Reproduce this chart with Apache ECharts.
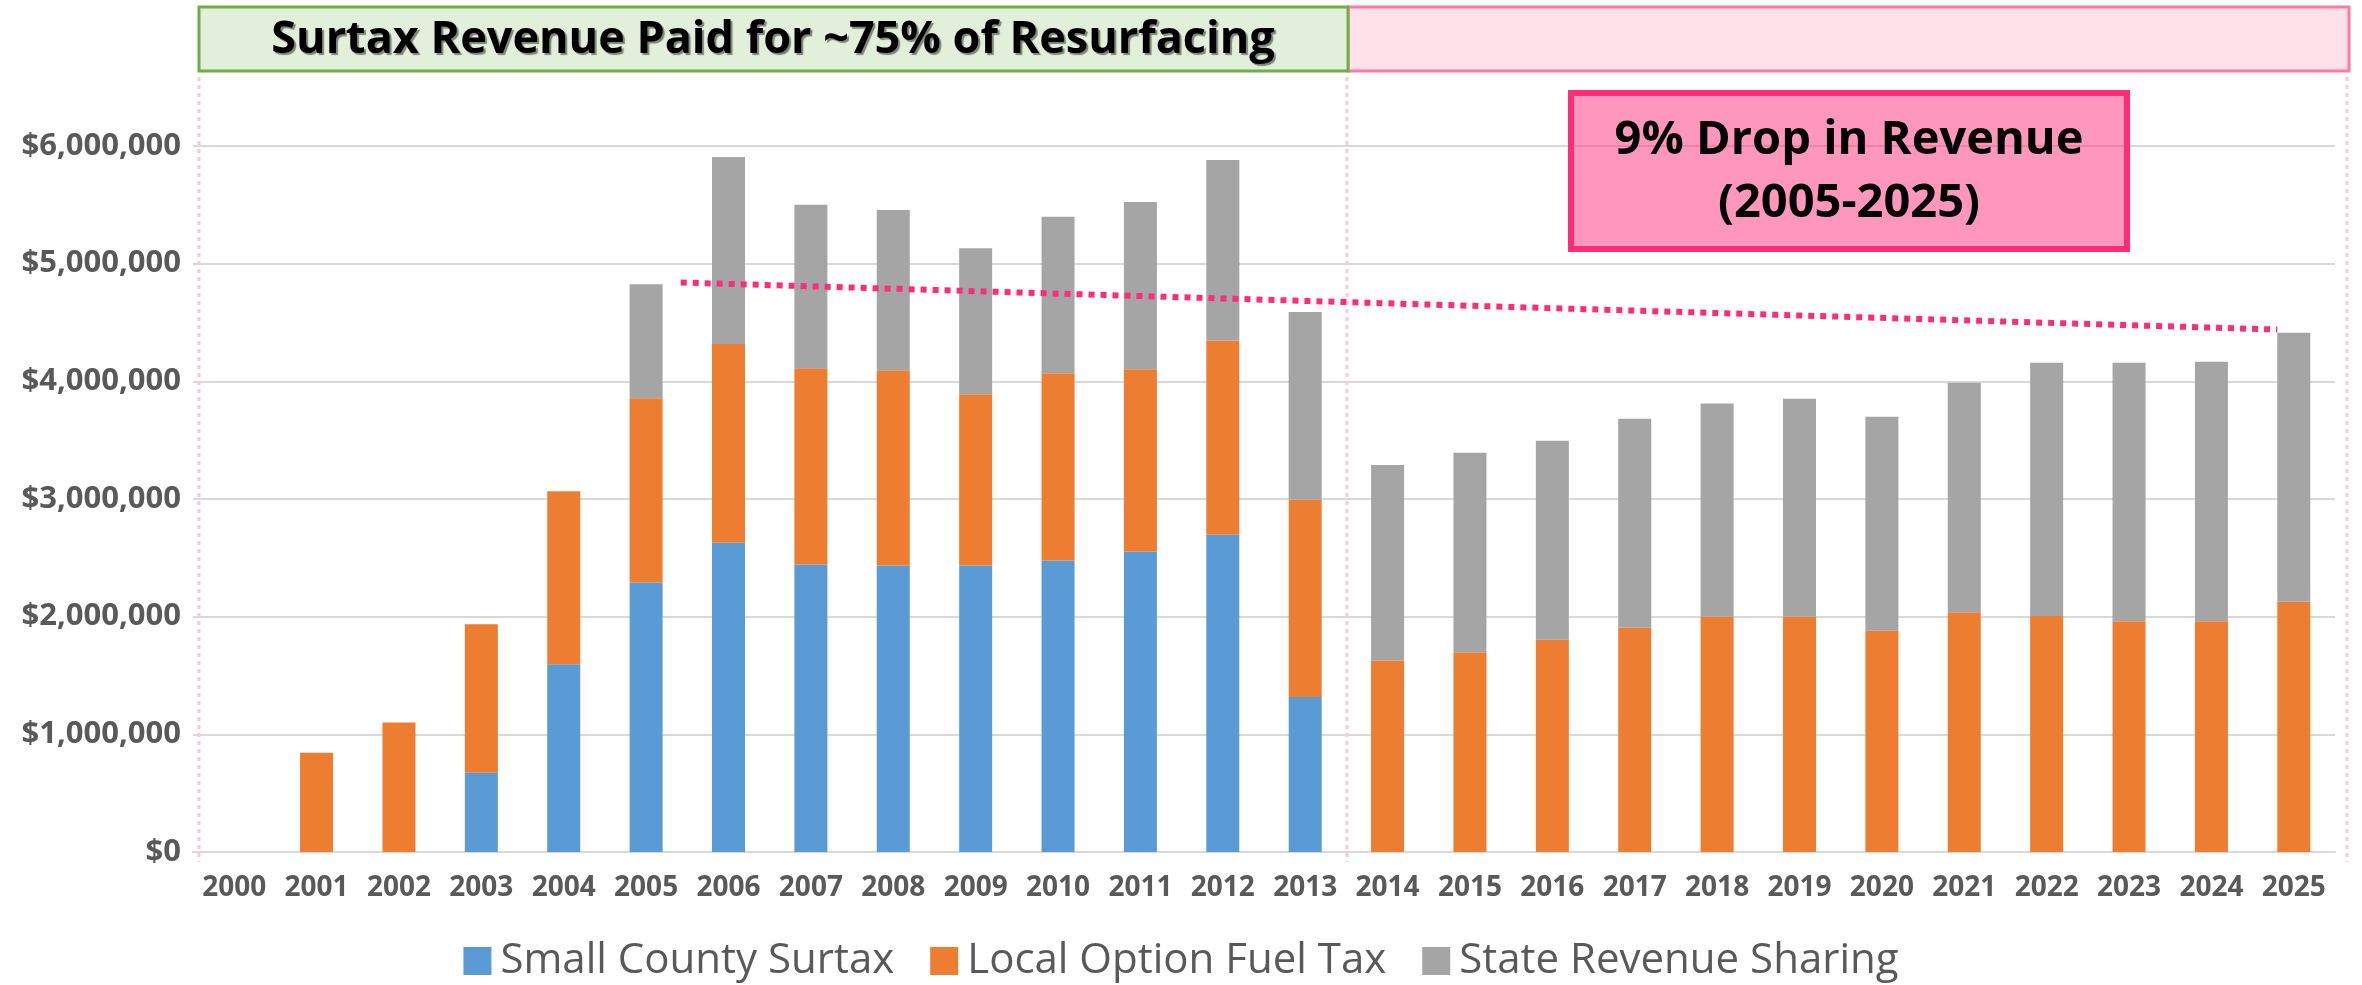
<!DOCTYPE html>
<html>
<head>
<meta charset="utf-8">
<script src="https://cdn.jsdelivr.net/npm/echarts@6/dist/echarts.min.js"></script>
<style>
    html, body { margin: 0; padding: 0; background: #fff; }
    #chart { width: 2362px; height: 985px; }
</style>
</head>
<body>
<div id="chart"></div>
<script>
// years on the x axis
const years = ['2000', '2001', '2002', '2003', '2004', '2005', '2006', '2007', '2008', '2009',
    '2010', '2011', '2012', '2013', '2014', '2015', '2016', '2017', '2018', '2019',
    '2020', '2021', '2022', '2023', '2024', '2025']

// stacked revenue parts, dollars
const surtax = [0, 0, 0, 673000, 1596000, 2290000, 2629000, 2443000, 2434000, 2434000,
    2477000, 2553000, 2697000, 1317000, 0, 0, 0, 0, 0, 0,
    0, 0, 0, 0, 0, 0]
const fuelTax = [0, 843000, 1100000, 1262000, 1469000, 1567000, 1689000, 1668000, 1660000, 1457000,
    1592000, 1549000, 1651000, 1677000, 1627000, 1698000, 1805000, 1906000, 2000000, 2000000,
    1880000, 2038000, 2006000, 1962000, 1962000, 2126000]
const stateShare = [0, 0, 0, 0, 0, 969000, 1588000, 1389000, 1363000, 1240000,
    1329000, 1423000, 1533000, 1596000, 1661000, 1694000, 1691000, 1776000, 1811000, 1852000,
    1818000, 1949000, 2151000, 2195000, 2205000, 2287000]

// trend line ends (x = year index)
const trendX = [5.42, 24.8]
const trendY = [4840000, 4440000]

const yTicks = { min: 0, max: 6000000, interval: 1000000 }

const legendNames = ['Small County Surtax', 'Local Option Fuel Tax', 'State Revenue Sharing']

const chart = echarts.init(document.getElementById('chart'))
const font = '"Open Sans", "Noto Sans", sans-serif'
const labelColor = '#595959'

chart.setOption({
    animation: false,
    grid: {
        left: 193,
        right: 27,
        top: 146,
        bottom: 133,
    },
    legend: {
        data: legendNames,
        left: 'center',
        top: 935,
        icon: 'rect',
        itemWidth: 28,
        itemHeight: 28,
        itemGap: 36,
        textStyle: {
            color: labelColor,
            fontFamily: font,
            fontSize: 42,
            padding: [0, 0, 0, 4],
        },
    },
    xAxis: [
        {
            type: 'category',
            data: years,
            axisTick: { show: false },
            axisLine: { lineStyle: { color: '#D9D9D9', width: 2 } },
            axisLabel: {
                interval: 0,
                margin: 22,
                color: labelColor,
                fontFamily: font,
                fontWeight: 'bold',
                fontSize: 28,
            },
        },
        {
            // hidden helper axis for the trend line
            type: 'value',
            min: -0.5,
            max: 25.5,
            show: false,
        },
    ],
    yAxis: {
        type: 'value',
        min: yTicks.min,
        max: yTicks.max,
        interval: yTicks.interval,
        axisLine: { show: false },
        axisTick: { show: false },
        splitLine: { lineStyle: { color: '#D9D9D9', width: 2 } },
        axisLabel: {
            margin: 12,
            color: labelColor,
            fontFamily: font,
            fontWeight: 'bold',
            fontSize: 31,
            formatter: (v) => '$' + v.toLocaleString('en-US'),
        },
    },
    series: [
        {
            name: legendNames[0],
            type: 'bar',
            stack: 'rev',
            barWidth: 33,
            itemStyle: { color: '#5B9BD5' },
            data: surtax,
        },
        {
            name: legendNames[1],
            type: 'bar',
            stack: 'rev',
            barWidth: 33,
            itemStyle: { color: '#ED7D31' },
            data: fuelTax,
        },
        {
            name: legendNames[2],
            type: 'bar',
            stack: 'rev',
            barWidth: 33,
            itemStyle: { color: '#A5A5A5' },
            data: stateShare,
        },
        {
            name: 'trend',
            type: 'line',
            xAxisIndex: 1,
            showSymbol: false,
            symbol: 'none',
            z: 5,
            lineStyle: { color: '#FF2D78', width: 6, type: [6, 6], cap: 'butt' },
            data: trendX.map((x, i) => [x, trendY[i]]),
        },
    ],
    graphic: [
        // dotted separators
        { type: 'line', z: 1, shape: { x1: 199, y1: 77, x2: 199, y2: 862 }, style: { stroke: '#FFC7D6', lineWidth: 3, lineDash: [4, 4] } },
        { type: 'line', z: 1, shape: { x1: 1347, y1: 77, x2: 1347, y2: 862 }, style: { stroke: '#FFC7D6', lineWidth: 3, lineDash: [4, 4] } },
        { type: 'line', z: 1, shape: { x1: 2347, y1: 77, x2: 2347, y2: 862 }, style: { stroke: '#FFC7D6', lineWidth: 3, lineDash: [4, 4] } },
        // header boxes
        { type: 'rect', z: 10, shape: { x: 1348, y: 7, width: 1001, height: 64 }, style: { fill: '#FFE1EA', stroke: '#FF7AA0', lineWidth: 3 } },
        { type: 'rect', z: 11, shape: { x: 199, y: 7, width: 1149, height: 64 }, style: { fill: '#E2EFDA', stroke: '#70AD47', lineWidth: 3 } },
        {
            type: 'text', z: 12, x: 773, y: 40,
            style: {
                text: 'Surtax Revenue Paid for ~75% of Resurfacing',
                fill: '#000',
                fontFamily: font,
                fontWeight: 'bold',
                fontSize: 45,
                textAlign: 'center',
                textVerticalAlign: 'middle',
                textShadowColor: 'rgba(0,0,0,0.45)',
                textShadowOffsetX: 2,
                textShadowOffsetY: 2,
                textShadowBlur: 1,
            },
        },
        // annotation
        { type: 'rect', z: 20, shape: { x: 1571, y: 93, width: 556, height: 156 }, style: { fill: 'rgba(255,45,120,0.5)', stroke: '#FF2D78', lineWidth: 6 } },
        {
            type: 'text', z: 21, x: 1849, y: 172,
            style: {
                text: '9% Drop in Revenue\n(2005-2025)',
                fill: '#000',
                fontFamily: font,
                fontWeight: 'bold',
                fontSize: 47,
                lineHeight: 63,
                textAlign: 'center',
                textVerticalAlign: 'middle',
            },
        },
    ],
})
</script>
</body>
</html>
